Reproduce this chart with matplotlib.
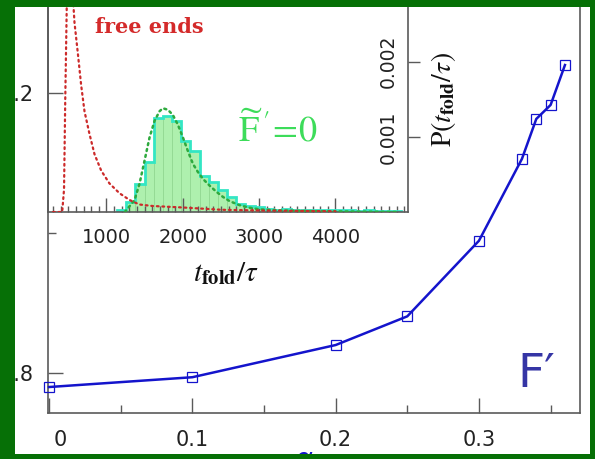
import numpy as np
import matplotlib
matplotlib.use("Agg")
import matplotlib.pyplot as plt
import matplotlib.transforms as mtransforms
from matplotlib.patches import Rectangle
from matplotlib.ticker import MultipleLocator, FixedLocator, FuncFormatter

plt.rcParams["mathtext.fontset"] = "stix"
plt.rcParams["font.family"] = ["DejaVu Sans"]

# ---- main curve: folding-time ratio versus alpha ----
alpha = [0.0, 0.1, 0.2, 0.25, 0.30, 0.33, 0.34, 0.35, 0.36]
ratio = [0.780, 0.794, 0.840, 0.881, 0.989, 1.106, 1.163, 1.183, 1.240]

# ---- inset: distribution of folding times ----
hist_edges = [1140, 1260, 1380, 1500, 1620, 1740, 1860, 1980, 2100, 2220,
              2340, 2460, 2580, 2700, 2820, 2940, 3060, 3180, 3300, 3420,
              3540, 3660, 3780, 3900, 4020, 4140, 4260, 4380, 4500, 4620,
              4740, 4860]
hist_p = [0.00003, 0.000135, 0.00037, 0.00067, 0.00125, 0.00128, 0.00121,
          0.00094, 0.00081, 0.00048, 0.00040, 0.00029, 0.00020, 0.00011,
          0.00008, 0.00006, 0.00004, 0.00003, 0.00004, 0.00003, 0.00002,
          0.00003, 0.00002, 0.00003, 0.00002, 0.00002, 0.00001, 0.00002,
          0.00001, 0.00001, 0.00001]

# smooth fit to the F'=0 histogram
fit_t = [1240, 1367, 1433, 1498, 1564, 1629, 1695, 1739, 1805, 1870, 1936,
         2002, 2067, 2133, 2199, 2264, 2352, 2439, 2527, 2614, 2746, 2878,
         3009, 3300, 3800, 4300, 4800]
fit_p = [0.0, 0.000157, 0.000376, 0.00068, 0.00099, 0.00121, 0.00134,
         0.00138, 0.00136, 0.00129, 0.00116, 0.00099, 0.00081, 0.00064,
         0.00053, 0.00044, 0.00035, 0.00027, 0.00020, 0.000144, 0.00009,
         0.000056, 0.000035, 0.00002, 0.00001, 0.000005, 0.0]

# free-ends distribution
free_t = [300, 420, 444, 460, 479, 500, 530, 558, 581, 624, 668, 712, 777,
          843, 931, 1039, 1170, 1302, 1430, 1600, 2000, 2500, 3000, 4000]
free_p = [0.0, 0.0, 0.0003, 0.0015, 0.0027, 0.0036, 0.0036, 0.0029, 0.00252,
          0.00212, 0.00169, 0.00134, 0.00104, 0.00077, 0.00055, 0.00038,
          0.00025, 0.00016, 0.00010, 0.00008, 0.00006, 0.00003, 0.00002,
          0.00001]

W, H = 595, 459
GREEN_FRAME = "#067006"
SPINE = "#5a5a5a"
BLUE = "#1414cc"


def fx(x):
    return x / W


def fy(y):
    return 1 - y / H


fig = plt.figure(figsize=(W / 100, H / 100), dpi=100, facecolor="white")

ax_in = fig.add_axes([fx(48), fy(212), (408 - 48) / W, 212 / H], zorder=1)
ax = fig.add_axes([fx(48), fy(413), (580 - 48) / W, 413 / H], zorder=2)
ax.set_facecolor("none")

# ---------------- main axes ----------------
ax.plot(alpha, ratio, color=BLUE, lw=1.8, marker="s", ms=7.2,
        mfc="none", mec=BLUE, mew=0.9, clip_on=False, zorder=3)
ax.set_xlim(-0.0007, 0.3705)
ax.set_ylim(0.7429, 1.3329)
ax.set_xticks([0, 0.1, 0.2, 0.3])
ax.xaxis.set_minor_locator(MultipleLocator(0.05))
ax.yaxis.set_major_locator(MultipleLocator(0.4))
ax.yaxis.set_minor_locator(MultipleLocator(0.2))
ax.xaxis.set_major_formatter(FuncFormatter(lambda v, p: f"{v:g}"))
ax.tick_params(which="both", direction="in", color=SPINE, width=1.0,
               top=False, right=False, labelsize=15, labelcolor="#222222")
ax.tick_params(which="major", length=11)
ax.tick_params(which="minor", length=6)
ax.tick_params(axis="x", which="major", pad=12)
ax.tick_params(axis="y", which="major", pad=10.5)
for s in ["left", "bottom", "right"]:
    ax.spines[s].set_color(SPINE)
    ax.spines[s].set_linewidth(1.2)
ax.spines["top"].set_visible(False)

# nudge the "0" label clear of the left spine
t0 = ax.xaxis.get_major_ticks()[0]
t0.label1.set_transform(t0.label1.get_transform() +
                        mtransforms.ScaledTranslation(0.11, 0, fig.dpi_scale_trans))

# ---------------- inset ----------------
ax_in.bar(hist_edges[:-1], hist_p, width=np.diff(hist_edges), align="edge",
          color="#aef0ae", edgecolor="#92d892", linewidth=0.6, zorder=1)
ax_in.stairs(hist_p, hist_edges, color="#33e6c4", lw=2.0, zorder=2)
ax_in.plot(fit_t, fit_p, color="#2eaa3e", lw=1.8, ls=(0, (0.8, 1.6)),
           dash_capstyle="round", zorder=3)
ax_in.plot(free_t, free_p, color="#cc2a2a", lw=1.6, ls=(0, (0.8, 1.7)),
           dash_capstyle="round", zorder=3)

ax_in.set_xlim(234, 4950)
ax_in.set_ylim(0, 0.00282)
ax_in.xaxis.set_major_locator(MultipleLocator(1000))
ax_in.xaxis.set_minor_locator(MultipleLocator(100))
ax_in.xaxis.set_major_formatter(FuncFormatter(lambda v, p: f"{v:.0f}"))
ax_in.yaxis.set_major_locator(FixedLocator([0.001, 0.002]))
ax_in.yaxis.set_major_formatter(FuncFormatter(lambda v, p: f"{v:g}"))
ax_in.tick_params(axis="x", which="both", direction="in", color=SPINE,
                  width=1.0, top=False, labelsize=14, labelcolor="#222222",
                  pad=11.5)
ax_in.tick_params(axis="x", which="major", length=10)
ax_in.tick_params(axis="x", which="minor", length=4.5)
ax_in.tick_params(axis="y", which="major", direction="out", length=8.6,
                  width=1.0, color=SPINE, left=False, right=True,
                  labelleft=False, labelright=True, labelrotation=90,
                  labelsize=13.5, labelcolor="#222222", pad=-16)
for lbl in ax_in.get_yticklabels():
    lbl.set_ha("right")
    lbl.set_va("center")
for s in ["left", "bottom", "right"]:
    ax_in.spines[s].set_color(SPINE)
    ax_in.spines[s].set_linewidth(1.2)
ax_in.spines["top"].set_visible(False)

# ---------------- annotations ----------------
fig.text(fx(226), fy(281), r"$t_{\mathbf{fold}}/\tau$", fontsize=21,
         ha="center", va="baseline", color="#111111")
fig.text(fx(443), fy(100), r"$\mathrm{P}(t_{\mathbf{fold}}/\tau)$",
         fontsize=20, rotation=90, ha="center", va="center", color="#111111")
fig.text(fx(95), fy(33), "free ends", family="DejaVu Serif",
         fontweight="bold", fontsize=15, color="#d42a2a", va="baseline")
fig.text(fx(238), fy(141), r"$\widetilde{\mathrm{F}}\,'\!=\!0$",
         fontsize=26, color="#3ddc5a", va="baseline")
fig.text(fx(517), fy(387), "F\u2032", fontsize=34, color="#3535a5",
         va="baseline")
fig.text(fx(305), fy(446), "\u03b1", fontsize=20, color=BLUE,
         ha="center", va="top")

# ---------------- green frame ----------------
for (x0, y0, x1, y1) in [(0, 0, 15, H), (590, 0, W, H), (0, 0, W, 7),
                         (0, 454, W, H)]:
    fig.add_artist(Rectangle((fx(x0), fy(y1)), (x1 - x0) / W, (y1 - y0) / H,
                             transform=fig.transFigure, facecolor=GREEN_FRAME,
                             edgecolor="none", zorder=10))

fig.savefig("out.png", dpi=100, facecolor="white")
